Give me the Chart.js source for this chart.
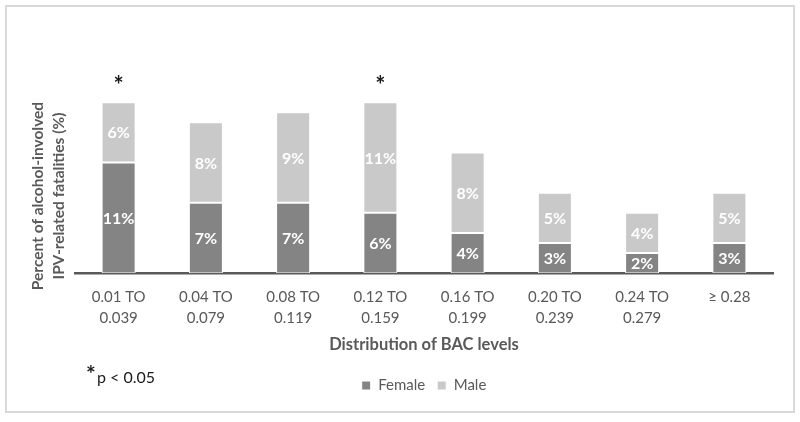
<!DOCTYPE html>
<html><head><meta charset="utf-8">
<style>html,body{margin:0;padding:0;background:#fff;overflow:hidden}</style>
<script src="https://cdn.jsdelivr.net/npm/chart.js@4/dist/chart.umd.min.js"></script>
</head><body>
<canvas id="c" width="800" height="422"></canvas>
<script>
const categories = [["0.01 TO","0.039"],["0.04 TO","0.079"],["0.08 TO","0.119"],["0.12 TO","0.159"],["0.16 TO","0.199"],["0.20 TO","0.239"],["0.24 TO","0.279"],["\u2265 0.28"]];
const female = [11, 7, 7, 6, 4, 3, 2, 3];
const male = [6, 8, 9, 11, 8, 5, 4, 5];
const significant = ["*", "", "", "*", "", "", "", ""];
const noteText = "p < 0.05";
const yTitle = ["Percent of alcohol-involved", "IPV-related fatalities (%)"];
const xTitle = "Distribution of BAC levels";

const FONT = "Lato, 'Open Sans', sans-serif";
const GRAY = "#595959";

const overlay = {
  id: "overlay",
  beforeDraw(chart) {
    const ctx = chart.ctx;
    ctx.save();
    ctx.strokeStyle = "#d9d9d9";
    ctx.lineWidth = 2;
    ctx.strokeRect(6, 6, 788, 406);
    // y axis title (two lines, rotated)
    ctx.fillStyle = GRAY;
    ctx.font = "bold 15.5px " + FONT;
    ctx.textAlign = "center";
    ctx.textBaseline = "middle";
    const yc = 196;
    [38, 59].forEach((x, i) => {
      ctx.save();
      ctx.translate(x, yc);
      ctx.rotate(-Math.PI / 2);
      ctx.fillText(yTitle[i], 0, 0);
      ctx.restore();
    });
    ctx.restore();
  },
  afterDatasetsDraw(chart) {
    const ctx = chart.ctx;
    ctx.save();
    ctx.fillStyle = "#ffffff";
    ctx.font = "bold 16px " + FONT;
    ctx.textAlign = "center";
    ctx.textBaseline = "middle";
    chart.data.datasets.forEach((ds, di) => {
      const meta = chart.getDatasetMeta(di);
      meta.data.forEach((el, i) => {
        const v = ds.data[i];
        const yc = (el.y + el.base) / 2;
        ctx.fillText(v + "%", el.x, yc + 1);
      });
    });
    // significance stars
    const top = chart.getDatasetMeta(1);
    ctx.fillStyle = "#1a1a1a";
    ctx.font = "bold 24px " + FONT;
    significant.forEach((s, i) => {
      if (!s) return;
      const el = top.data[i];
      ctx.fillText(s, el.x, el.y - 16);
    });
    // note
    ctx.textAlign = "left";
    ctx.font = "bold 23px " + FONT;
    ctx.fillText("*", 86, 375);
    ctx.font = "16px " + FONT;
    ctx.fillText(noteText, 97, 378);
    ctx.restore();
  }
};

new Chart(document.getElementById("c"), {
  type: "bar",
  data: {
    labels: categories,
    datasets: [
      { label: "Female", data: female, backgroundColor: "#848484", borderColor: "#ffffff", borderWidth: 1, borderSkipped: false },
      { label: "Male", data: male, backgroundColor: "#c9c9c9", borderColor: "#ffffff", borderWidth: 1, borderSkipped: false }
    ]
  },
  options: {
    responsive: false,
    devicePixelRatio: 1,
    animation: false,
    layout: { padding: { top: 82, left: 75, right: 27, bottom: 19 } },
    datasets: { bar: { categoryPercentage: 1, barPercentage: 0.39 } },
    plugins: {
      legend: {
        position: "bottom",
        labels: { boxWidth: 9, boxHeight: 9, color: GRAY, font: { family: FONT, size: 15 }, padding: 12 }
      },
      tooltip: { enabled: false }
    },
    scales: {
      x: {
        stacked: true,
        grid: { display: false },
        border: { display: true, color: GRAY, width: 2.5 },
        ticks: { color: GRAY, font: { family: FONT, size: 15, lineHeight: 1.4 }, padding: 5, maxRotation: 0 },
        title: { display: true, text: xTitle, color: GRAY, font: { family: FONT, size: 16.5, weight: "bold" }, padding: { top: 2, bottom: 11 } }
      },
      y: {
        display: false,
        stacked: true,
        min: 0,
        max: 19
      }
    }
  },
  plugins: [overlay]
});
</script>
</body></html>
